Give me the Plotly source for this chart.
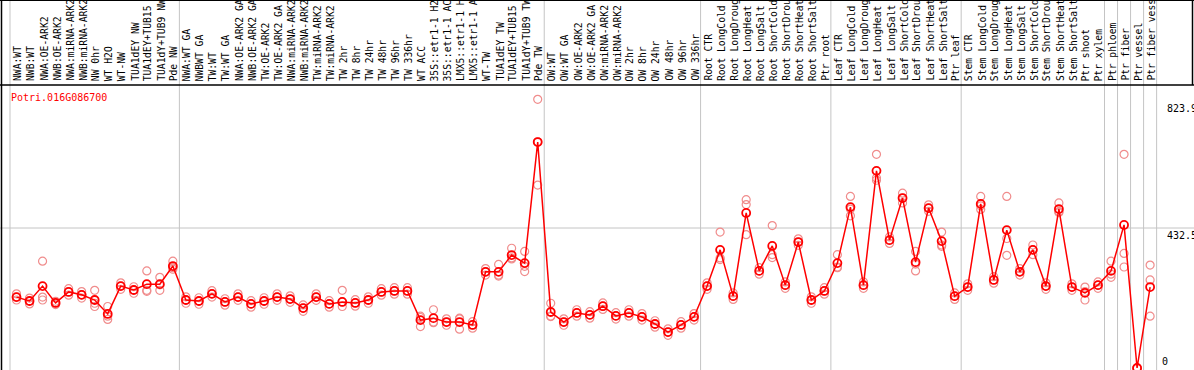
import plotly.graph_objects as go

title = "Potri.016G086700"

labels = [
    "NWA:WT", "NWB:WT", "NWA:OE-ARK2", "NWB:OE-ARK2", "NWA:miRNA-ARK2", "NWB:miRNA-ARK2",
    "NW 0hr", "WT H2O", "WT-NW", "TUA1dEY NW", "TUA1dEY+TUB15 NW", "TUA1dY+TUB9 NW", "Pde NW",
    "NWA:WT GA", "NWBWT GA", "TW:WT", "TW:WT GA", "NWA:OE-ARK2 GA", "NWB:OE-ARK2 GA",
    "TW:OE-ARK2", "TW:OE-ARK2 GA", "NWA:miRNA-ARK2", "NWB:miRNA-ARK2", "TW:miRNA-ARK2",
    "TW:miRNA-ARK2", "TW 2hr", "TW 8hr", "TW 24hr", "TW 48hr", "TW 96hr", "TW 336hr",
    "WT ACC", "35S::etr1-1 H2O", "35S::etr1-1 ACC", "LMX5::etr1-1 H2O", "LMX5::etr1-1 ACC",
    "WT-TW", "TUA1dEY TW", "TUA1dEY+TUB15 TW", "TUA1dY+TUB9 TW", "Pde TW",
    "OW:WT", "OW:WT GA", "OW:OE-ARK2", "OW:OE-ARK2 GA", "OW:miRNA-ARK2", "OW:miRNA-ARK2",
    "OW 2hr", "OW 8hr", "OW 24hr", "OW 48hr", "OW 96hr", "OW 336hr",
    "Root CTR", "Root LongCold", "Root LongDrought", "Root LongHeat", "Root LongSalt",
    "Root ShortCold", "Root ShortDrought", "Root ShortHeat", "Root ShortSalt", "Ptr root",
    "Leaf CTR", "Leaf LongCold", "Leaf LongDrought", "Leaf LongHeat", "Leaf LongSalt",
    "Leaf ShortCold", "Leaf ShortDrought", "Leaf ShortHeat", "Leaf ShortSalt", "Ptr leaf",
    "Stem CTR", "Stem LongCold", "Stem LongDrought", "Stem LongHeat", "Stem LongSalt",
    "Stem ShortCold", "Stem ShortDrought", "Stem ShortHeat", "Stem ShortSalt", "Ptr shoot",
    "Ptr xylem", "Ptr phloem", "Ptr fiber", "Ptr vessel", "Ptr fiber vessel",
]

means = [
    219, 207, 253, 201, 235, 226, 210, 167, 253, 241, 259, 259, 315,
    210, 207, 229, 204, 219, 198, 207, 219, 213, 185, 219, 198, 204, 201, 210, 235, 238, 238,
    148, 154, 142, 142, 133, 297, 297, 349, 324, 698,
    173, 142, 170, 164, 191, 161, 170, 158, 136, 111, 133, 158,
    253, 365, 222, 479, 300, 377, 256, 389, 210, 238,
    324, 497, 256, 609, 395, 525, 327, 494, 392, 222,
    250, 507, 272, 426, 297, 365, 253, 491, 250, 232, 256,
    300, 442, 0, 250,
]

replicates = [
    [229, 210, 219], [198, 216, 207], [330, 210, 219], [196, 206, 201], [245, 225, 235], [236, 216, 226],
    [200, 190, 240], [190, 150, 160], [263, 243, 253], [251, 231, 241], [300, 240, 237], [280, 240, 257], [330, 305, 310],
    [220, 200, 210], [197, 217, 207], [239, 219, 229], [214, 194, 204], [229, 209, 219], [208, 188, 198],
    [217, 197, 207], [229, 209, 219], [223, 203, 213], [195, 175, 185], [229, 209, 219], [208, 188, 198],
    [240, 190, 204], [211, 191, 201], [220, 200, 210], [245, 225, 235], [248, 228, 238], [248, 228, 238],
    [128, 160, 156], [180, 140, 142], [152, 132, 142], [152, 120, 154], [143, 123, 133],
    [307, 287, 297], [320, 287, 284], [370, 340, 337], [360, 314, 298], [830, 565, 699],
    [200, 160, 159], [152, 132, 142], [180, 160, 170], [174, 154, 164], [201, 181, 191], [171, 151, 161],
    [180, 160, 170], [168, 148, 158], [146, 126, 136], [121, 101, 111], [143, 123, 133], [168, 148, 158],
    [263, 243, 253], [420, 340, 335], [232, 212, 222], [520, 505, 412], [310, 290, 300], [440, 350, 341],
    [266, 246, 256], [399, 379, 389], [220, 200, 210], [248, 228, 238],
    [350, 310, 312], [530, 470, 491], [266, 246, 256], [660, 580, 587], [405, 385, 395], [540, 510, 525],
    [360, 300, 321], [504, 484, 494], [420, 380, 376], [232, 212, 222],
    [260, 240, 250], [530, 490, 501], [282, 262, 272], [530, 400, 348], [307, 287, 297], [380, 350, 365],
    [263, 243, 253], [510, 480, 483], [260, 240, 250], [250, 210, 236], [266, 246, 256],
    [330, 290, 280], [660, 312, 354], [0, 0, 0], [318, 160, 272],
]

tick_values = [0, 432.5, 823.9]
tick_texts = ["0", "432.5", "823.9"]
group_bounds = [-0.5, 12.5, 40.5, 52.5, 62.5, 72.5, 83.5, 84.5, 85.5, 86.5, 87.5]

W, H = 1194, 370
X0, DX = 16.5, 13.03          # pixel of first column, column pitch
Y0, DY = 368.0, 0.3237        # pixel of value 0, pixels per unit
HEADER = 85                   # header bottom line (px from top)

xr = [-X0 / DX, (W - X0) / DX]
yr = [(Y0 - H) / DY, Y0 / DY]

n = len(labels)
xs = list(range(n))

fig = go.Figure()

rx, ry = [], []
for i, reps in enumerate(replicates):
    for v in reps:
        rx.append(i)
        ry.append(v)

fig.add_trace(go.Scatter(
    x=rx, y=ry, mode="markers",
    marker=dict(symbol="circle-open", size=8, color="rgb(240,140,140)", line=dict(width=1.2)),
    hoverinfo="skip", showlegend=False,
))
fig.add_trace(go.Scatter(
    x=xs, y=means, mode="lines+markers",
    line=dict(color="#ff0000", width=1.5),
    marker=dict(symbol="circle-open", size=8, color="#ff0000", line=dict(width=1.8)),
    showlegend=False,
))

shapes = []
grey = "#c4c4c4"
for b in group_bounds:
    shapes.append(dict(type="line", xref="x", yref="paper", x0=b, x1=b, y0=0, y1=1,
                       line=dict(color=grey, width=1), layer="below"))
shapes.append(dict(type="line", xref="paper", yref="y", x0=0, x1=1, y0=432.5, y1=432.5,
                   line=dict(color=grey, width=1), layer="below"))
hy = 1 - HEADER / H
shapes.append(dict(type="line", xref="paper", yref="paper", x0=0, x1=1, y0=hy, y1=hy,
                   line=dict(color="black", width=1.5)))
shapes.append(dict(type="line", xref="paper", yref="paper", x0=0, x1=1, y0=1, y1=1,
                   line=dict(color="black", width=2)))
shapes.append(dict(type="line", xref="paper", yref="paper", x0=1 - 1.5 / W, x1=1 - 1.5 / W, y0=hy, y1=1,
                   line=dict(color="black", width=1.5)))
shapes.append(dict(type="line", xref="paper", yref="paper", x0=1.5 / W, x1=1.5 / W, y0=0, y1=1,
                   line=dict(color="black", width=1.5)))

ann = []
font_mono = "DejaVu Sans Mono"
for i, lab in enumerate(labels):
    ann.append(dict(x=i, y=1 - (HEADER - 2) / H, xref="x", yref="paper", text=lab,
                    textangle=-90, xanchor="center", yanchor="bottom", showarrow=False,
                    xshift=1, font=dict(family=font_mono, size=9.7, color="black")))

ann.append(dict(x=9 / W, y=1 - 97 / H, xref="paper", yref="paper", text=title,
                xanchor="left", yanchor="middle", showarrow=False,
                font=dict(family=font_mono, size=10, color="#ff0000")))

for v, t in zip(tick_values, tick_texts):
    if v == 0:
        ann.append(dict(x=1, y=v, xref="paper", yref="y", text=t, xanchor="right", yanchor="bottom",
                        yshift=-1, xshift=-24, showarrow=False,
                        font=dict(family=font_mono, size=10, color="black")))
    else:
        ann.append(dict(x=1, y=v, xref="paper", yref="y", text=t, xanchor="right", yanchor="top",
                        xshift=5, showarrow=False,
                        font=dict(family=font_mono, size=10, color="black")))

fig.update_layout(
    width=W, height=H, margin=dict(l=0, r=0, t=0, b=0),
    paper_bgcolor="white", plot_bgcolor="white",
    xaxis=dict(range=xr, visible=False, fixedrange=True),
    yaxis=dict(range=yr, visible=False, fixedrange=True),
    shapes=shapes, annotations=ann,
)

fig.write_html("out.html", config={"displayModeBar": False},
               post_script="document.body.style.margin='0px';document.body.style.overflow='hidden';")
